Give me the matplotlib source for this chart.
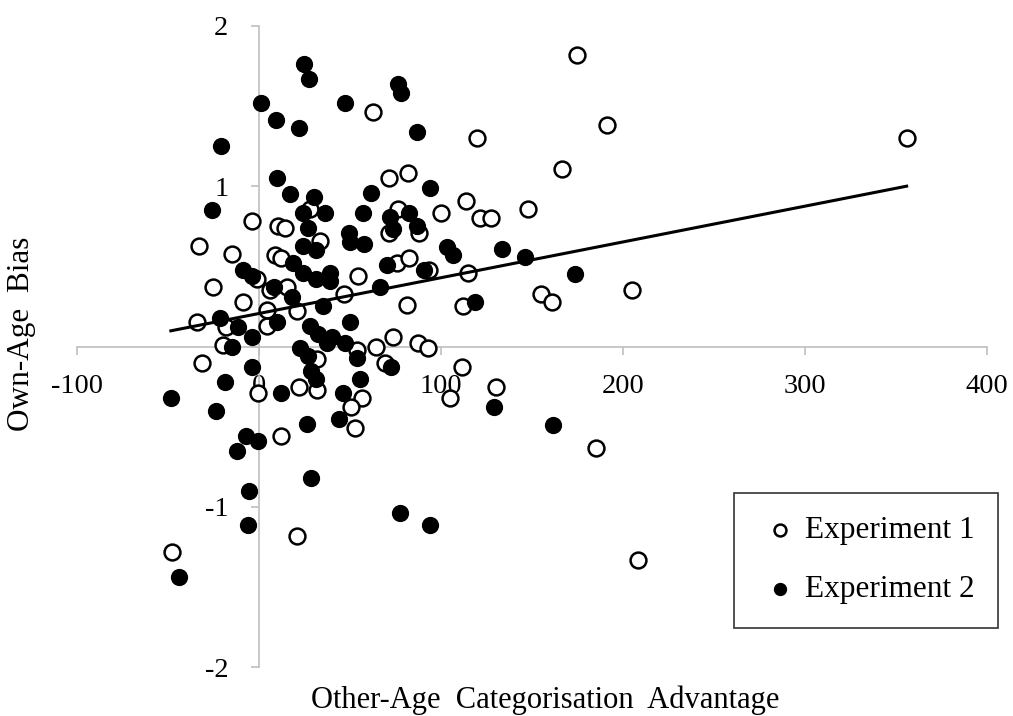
import numpy as np
import matplotlib
matplotlib.use('Agg')
import matplotlib.pyplot as plt

# Experiment 1 (open circles): other-age categorisation advantage, own-age bias
exp1_x = [174.7, 191.2, 356.0, 119.8, 62.6, 166.5, 71.4, 81.9, 113.7, 147.8,
          76.4, 100.0, 121.4, 127.5, 71.4, 87.9, 75.8, 82.4, 93.4, 54.4,
          114.8, 46.7, 154.9, 161.0, 204.9, 81.3, 112.1, 73.6, 53.8, 64.3,
          87.4, 92.9, 69.2, 111.5, 130.2, 104.9, 56.6, 50.5, 52.7, 185.2,
          208.2, 20.9, -47.8, -31.3, -0.5, 22.0, 31.9, 31.9, 12.1, -3.8,
          10.4, 14.3, 28.0, -33.0, -14.8, 33.5, 8.8, 12.1, -1.1, -25.3,
          6.0, 15.4, -8.8, 4.4, 20.9, -34.1, -18.1, 4.4, -19.8]
exp1_y = [1.82, 1.38, 1.30, 1.30, 1.46, 1.11, 1.05, 1.08, 0.91, 0.86,
          0.86, 0.83, 0.80, 0.80, 0.71, 0.71, 0.52, 0.55, 0.48, 0.44,
          0.46, 0.33, 0.33, 0.28, 0.35, 0.26, 0.25, 0.06, -0.02, 0.00,
          0.02, -0.01, -0.10, -0.13, -0.25, -0.32, -0.32, -0.38, -0.51, -0.63,
          -1.33, -1.18, -1.28, -0.10, -0.29, -0.25, -0.27, -0.08, -0.56, 0.78,
          0.75, 0.74, 0.86, 0.63, 0.58, 0.66, 0.57, 0.55, 0.42, 0.37,
          0.35, 0.37, 0.28, 0.23, 0.22, 0.15, 0.12, 0.13, 0.01]

# Experiment 2 (filled circles)
exp2_x = [24.7, 27.5, 1.1, 47.3, 9.3, 22.0, -20.9, 76.4, 78.0, 86.8,
          9.9, 17.0, 30.2, 61.5, 94.0, -25.8, 24.2, 36.3, 26.9, 57.1,
          72.0, 82.4, 49.5, 73.6, 86.8, 50.0, 57.7, 24.2, 31.3, 103.3,
          106.6, 133.5, 146.2, 173.6, 70.3, 90.7, 66.5, 118.7, 18.7, 24.2,
          39.0, 31.3, 39.0, -8.8, -3.8, 8.2, 18.1, 35.2, 50.0, -21.4,
          -11.5, 9.9, -3.8, -14.8, 28.0, 32.4, 40.1, 37.4, 47.3, 22.5,
          26.9, 53.8, 28.6, 31.3, 72.5, 55.5, 46.2, -3.8, -18.7, 12.1,
          -48.4, -23.6, 129.1, 26.4, 44.0, 161.5, -7.1, -0.5, -12.1, 28.6,
          -5.5, -6.0, 77.5, 94.0, -44.0]
exp2_y = [1.76, 1.67, 1.52, 1.52, 1.41, 1.36, 1.25, 1.64, 1.58, 1.34,
          1.05, 0.95, 0.93, 0.96, 0.99, 0.85, 0.83, 0.83, 0.74, 0.83,
          0.81, 0.83, 0.71, 0.73, 0.75, 0.65, 0.64, 0.63, 0.60, 0.62,
          0.57, 0.61, 0.56, 0.45, 0.51, 0.48, 0.37, 0.28, 0.52, 0.46,
          0.46, 0.42, 0.41, 0.48, 0.44, 0.37, 0.31, 0.25, 0.15, 0.18,
          0.12, 0.15, 0.06, 0.00, 0.13, 0.08, 0.06, 0.02, 0.02, -0.01,
          -0.06, -0.07, -0.15, -0.20, -0.13, -0.20, -0.29, -0.13, -0.22, -0.29,
          -0.32, -0.40, -0.38, -0.48, -0.45, -0.49, -0.56, -0.59, -0.65, -0.82,
          -0.90, -1.11, -1.04, -1.11, -1.44]

# linear trend line
trend_slope = 0.00223
trend_intercept = 0.206

x_ticks = [-100, 0, 100, 200, 300, 400]
y_ticks = [-2, -1, 0, 1, 2]

plt.rcParams['font.family'] = ['Liberation Serif', 'DejaVu Serif']
plt.rcParams['axes.unicode_minus'] = False
fs = 21.5
grey = '#bfbfbf'

fig = plt.figure(figsize=(10.13, 7.16), dpi=100)
ax = fig.add_axes([0.076, 0.068, 0.898, 0.896])

ax.scatter(exp1_x, exp1_y, s=130, facecolor='white', edgecolor='black',
           linewidth=1.8, zorder=3, label='Experiment 1')
ax.scatter(exp2_x, exp2_y, s=130, facecolor='black', edgecolor='black',
           linewidth=1.0, zorder=4, label='Experiment 2')

all_x = np.array(exp1_x + exp2_x)
tx = np.array([all_x.min(), all_x.max()])
ax.plot(tx, trend_slope * tx + trend_intercept, color='black', lw=2.2, zorder=5)

ax.set_xlim(-100, 400)
ax.set_ylim(-2, 2)
ax.set_xticks(x_ticks)
ax.set_yticks(y_ticks)
ax.set_yticklabels(['-2', '-1', '', '1', '2'])

for side in ['top', 'right']:
    ax.spines[side].set_visible(False)
ax.spines['left'].set_position(('data', 0))
ax.spines['bottom'].set_position(('data', 0))
for side in ['left', 'bottom']:
    ax.spines[side].set_color(grey)
    ax.spines[side].set_linewidth(1.2)

ax.tick_params(axis='both', direction='out', length=6, width=1.2, color=grey,
               labelsize=fs - 1, labelcolor='black')
ax.tick_params(axis='x', pad=14)
ax.tick_params(axis='y', pad=16)

ax.set_xlabel('Other-Age  Categorisation  Advantage', fontsize=fs + 0.5)
ax.xaxis.set_label_coords(0.515, -0.028)
ax.set_ylabel('Own-Age  Bias', fontsize=fs + 1)
ax.yaxis.set_label_coords(-0.045, 0.52)

leg = ax.legend(loc='lower right', bbox_to_anchor=(1.013, 0.062), fontsize=fs + 1,
                frameon=True, fancybox=False, markerscale=0.75,
                handlelength=1.5, handletextpad=0.05, borderpad=0.75,
                labelspacing=0.95, borderaxespad=0.0)
leg.get_frame().set_edgecolor('black')
leg.get_frame().set_linewidth(1.2)

fig.savefig('out.png', dpi=100)
